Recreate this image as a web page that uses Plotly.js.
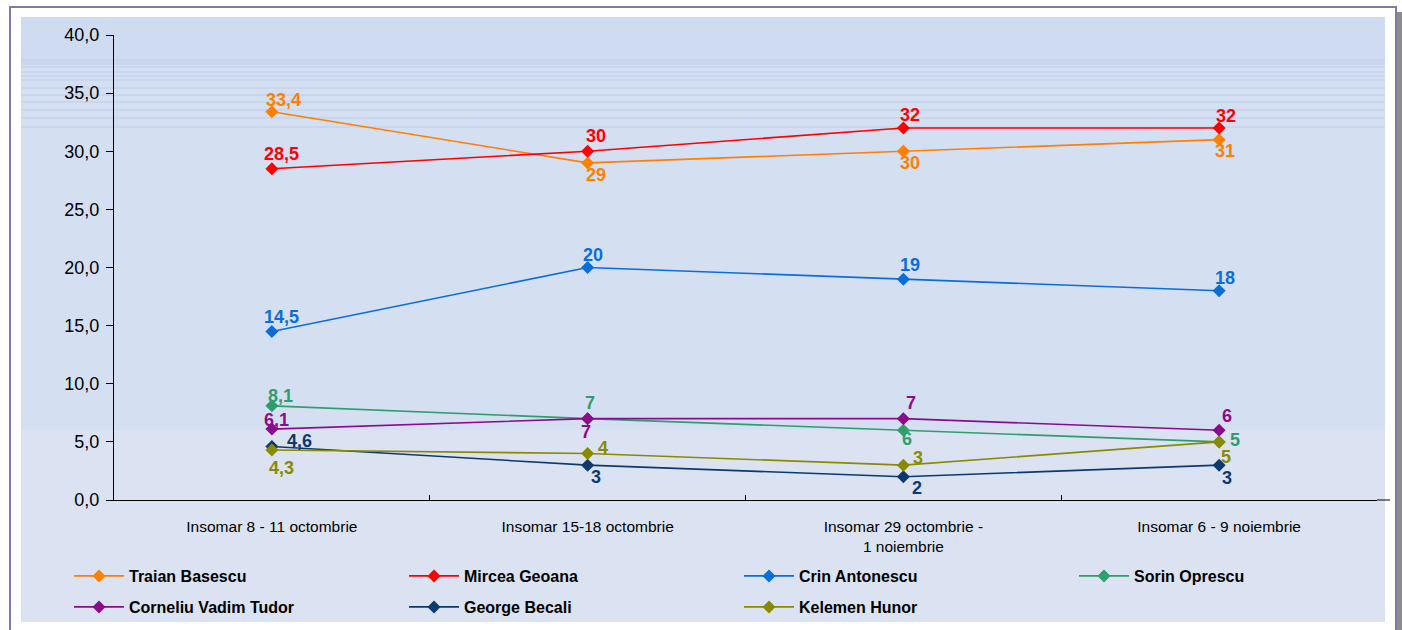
<!DOCTYPE html>
<html>
<head>
<meta charset="utf-8">
<script src="https://cdn.plot.ly/plotly-3.0.1.min.js"></script>
<style>html,body{margin:0;padding:0;background:#fff;}#chart{width:1402px;height:630px;}</style>
</head>
<body>
<div id="chart"></div>
<script>
const categories = ["Insomar 8 - 11 octombrie", "Insomar 15-18 octombrie", "Insomar 29 octombrie -<br>1 noiembrie", "Insomar 6 - 9 noiembrie"];
const seriesNames = ["Traian Basescu", "Mircea Geoana", "Crin Antonescu", "Sorin Oprescu", "Corneliu Vadim Tudor", "George Becali", "Kelemen Hunor"];
const traian = [33.4, 29, 30, 31];
const mircea = [28.5, 30, 32, 32];
const crin = [14.5, 20, 19, 18];
const sorin = [8.1, 7, 6, 5];
const corneliu = [6.1, 7, 7, 6];
const george = [4.6, 3, 2, 3];
const kelemen = [4.3, 4, 3, 5];
const yTicks = [0, 5, 10, 15, 20, 25, 30, 35, 40];

const seriesValues = [traian, mircea, crin, sorin, corneliu, george, kelemen];
const colors = ["#ff7f00", "#ff0000", "#0a6ed8", "#2f9e6e", "#8b0b8b", "#0d3a6e", "#8a8a00"];
// label offsets in pixels [dx, dy(up)] per point (style only)
const labelOffsets = [
  [[12, 12], [8, -12], [7, -12], [6, -11]],
  [[10, 15], [8, 15], [7, 13], [7, 12]],
  [[10, 14], [5, 13], [7, 14], [6, 13]],
  [[9, 10], [2, 16], [4, -9], [16, 2]],
  [[5, 9], [-2, -13], [8, 16], [8, 14]],
  [[28, 6], [8, -12], [14, -11], [8, -13]],
  [[10, -18], [15, 6], [15, 7], [7, -15]]
];
const fmt = v => String(v).replace('.', ',');

const traces = seriesValues.map((vals, i) => ({
  type: 'scatter', mode: 'lines+markers',
  name: seriesNames[i], x: categories, y: vals,
  legend: i < 4 ? 'legend' : 'legend2',
  line: {color: colors[i], width: 1.6},
  marker: {symbol: 'diamond', size: 10, color: colors[i]},
  cliponaxis: false, hoverinfo: 'x+y+name'
}));

const annotations = [];
seriesValues.forEach((vals, i) => {
  vals.forEach((v, j) => {
    annotations.push({
      xref: 'x', yref: 'y', x: categories[j], y: v, text: fmt(v), showarrow: false,
      xanchor: 'center', yanchor: 'middle', xshift: labelOffsets[i][j][0], yshift: labelOffsets[i][j][1],
      borderpad: 0,
      font: {family: 'Liberation Sans, Arial, sans-serif', size: 18, color: colors[i], weight: 'bold'}
    });
  });
});

const L = 114, T = 35, W = 1263, H = 465;
const px = x => (x - L) / W;
const py = y => (500 - y) / H;
const shapes = [
  {type: 'rect', xref: 'paper', yref: 'paper', x0: px(14), x1: px(1402), y0: py(12), y1: py(640), fillcolor: '#8c8c8c', line: {width: 0}, layer: 'below'},
  {type: 'rect', xref: 'paper', yref: 'paper', x0: px(10), x1: px(1396), y0: py(7), y1: py(640), fillcolor: '#ffffff', line: {color: '#7b7ba6', width: 2}, layer: 'below'},
  {type: 'rect', xref: 'paper', yref: 'paper', x0: px(21), x1: px(1385), y0: py(17), y1: py(622), fillcolor: '#dbe3f3', line: {width: 0}, layer: 'below'},
  {type: 'rect', xref: 'paper', yref: 'paper', x0: px(21), x1: px(1385), y0: py(17), y1: py(430), fillcolor: '#d5dff2', line: {width: 0}, layer: 'below'},
  {type: 'rect', xref: 'paper', yref: 'paper', x0: px(21), x1: px(1385), y0: py(17), y1: py(60), fillcolor: '#cfdbf0', line: {width: 0}, layer: 'below'}
];
[60, 62, 64, 67, 72, 76, 80, 88, 95, 102, 110, 118, 127].forEach(y => {
  shapes.push({type: 'line', xref: 'paper', yref: 'paper', x0: px(21), x1: px(1385), y0: py(y), y1: py(y), line: {color: '#bccdea', width: 1}, layer: 'below'});
});
shapes.push({type: 'line', xref: 'paper', yref: 'paper', x0: 1, x1: px(1390), y0: 0, y1: 0, line: {color: '#000', width: 1}});

const legendCommon = {
  orientation: 'h', xanchor: 'left', yanchor: 'middle',
  entrywidth: 270, entrywidthmode: 'pixels', itemwidth: 50,
  bgcolor: 'rgba(0,0,0,0)', traceorder: 'normal',
  font: {family: 'Liberation Sans, Arial, sans-serif', size: 16, color: '#000', weight: 'bold'}
};

const layout = {
  width: 1402, height: 630,
  margin: {l: L, r: 1402 - L - W, t: T, b: 630 - T - H, autoexpand: false},
  paper_bgcolor: '#ffffff', plot_bgcolor: 'rgba(0,0,0,0)',
  separators: ',.',
  font: {family: 'Liberation Sans, Arial, sans-serif', size: 16, color: '#000'},
  showlegend: true,
  xaxis: {
    type: 'category', categoryorder: 'array', categoryarray: categories,
    range: [-0.5, 3.5], showline: true, linecolor: '#000', linewidth: 1,
    ticks: 'inside', tickson: 'boundaries', ticklen: 5, tickcolor: '#000',
    showgrid: false, zeroline: false, ticklabelstandoff: 12,
    tickfont: {family: 'Liberation Sans, Arial, sans-serif', size: 15.5, color: '#000'}
  },
  yaxis: {
    range: [0, 40], tickvals: yTicks, tickformat: '.1f',
    showline: true, linecolor: '#000', linewidth: 1,
    ticks: 'outside', ticklen: 7, tickcolor: '#000',
    showgrid: false, zeroline: false, ticklabelstandoff: 3,
    tickfont: {size: 18, color: '#000'}
  },
  legend: Object.assign({}, legendCommon, {x: px(69), y: py(576)}),
  legend2: Object.assign({}, legendCommon, {x: px(69), y: py(607)}),
  annotations: annotations,
  shapes: shapes
};

Plotly.newPlot('chart', traces, layout, {displayModeBar: false, staticPlot: true});
</script>
</body>
</html>
